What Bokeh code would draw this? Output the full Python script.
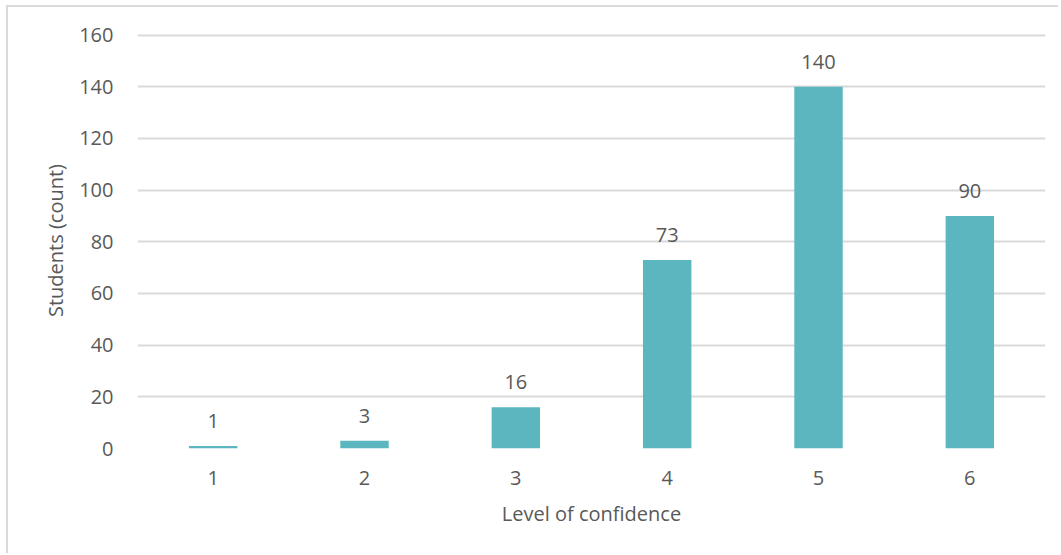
from bokeh.plotting import figure
from bokeh.models import ColumnDataSource, FixedTicker, LabelSet
from bokeh.core.properties import value
from bokeh.embed import file_html
from bokeh.resources import INLINE

levels = ["1", "2", "3", "4", "5", "6"]
counts = [1, 3, 16, 73, 140, 90]
y_ticks = [0, 20, 40, 60, 80, 100, 120, 140, 160]

FONT = "Open Sans"
TXT = "#595959"
BAR = "#5BB6C0"
GRID = "#D9D9D9"

src = ColumnDataSource(dict(x=levels, y=counts, lab=[str(c) for c in counts]))

W, H = 1052, 548
p = figure(x_range=levels, y_range=(0, 161), width=W, height=H,
           output_backend="svg", toolbar_location=None,
           min_border_left=129, min_border_right=W - 1037,
           min_border_top=25, min_border_bottom=H - 441)
p.styles = {"margin-left": "6px", "margin-top": "5px",
            "border-left": "2px solid #D9D9D9", "border-top": "2px solid #D9D9D9"}
p.outline_line_color = None
p.background_fill_color = "white"
p.border_fill_color = "white"

p.vbar(x="x", top="y", width=0.32, source=src, color=BAR, line_color=None)

labels = LabelSet(x="x", y="y", text="lab", source=src, text_align="center",
                  text_baseline="bottom", y_offset=18, text_font=value(FONT),
                  text_font_size="20px", text_color=TXT)
p.add_layout(labels)

p.xgrid.grid_line_color = None
p.ygrid.grid_line_color = GRID
p.ygrid.grid_line_width = 2
p.yaxis.ticker = FixedTicker(ticks=y_ticks)

for ax in (p.xaxis[0], p.yaxis[0]):
    ax.axis_line_color = None
    ax.major_tick_line_color = None
    ax.minor_tick_line_color = None
    ax.major_label_text_font = FONT
    ax.major_label_text_font_size = "20px"
    ax.major_label_text_color = TXT
    ax.axis_label_text_font = FONT
    ax.axis_label_text_font_size = "20px"
    ax.axis_label_text_color = TXT
    ax.axis_label_text_font_style = "normal"

p.xaxis.axis_label = "Level of confidence"
p.yaxis.axis_label = "Students (count)"
p.yaxis.major_label_standoff = 18
p.xaxis.major_label_standoff = 16
p.yaxis.axis_label_standoff = 7
p.xaxis.axis_label_standoff = 12

open("out.html", "w").write(file_html(p, INLINE))
